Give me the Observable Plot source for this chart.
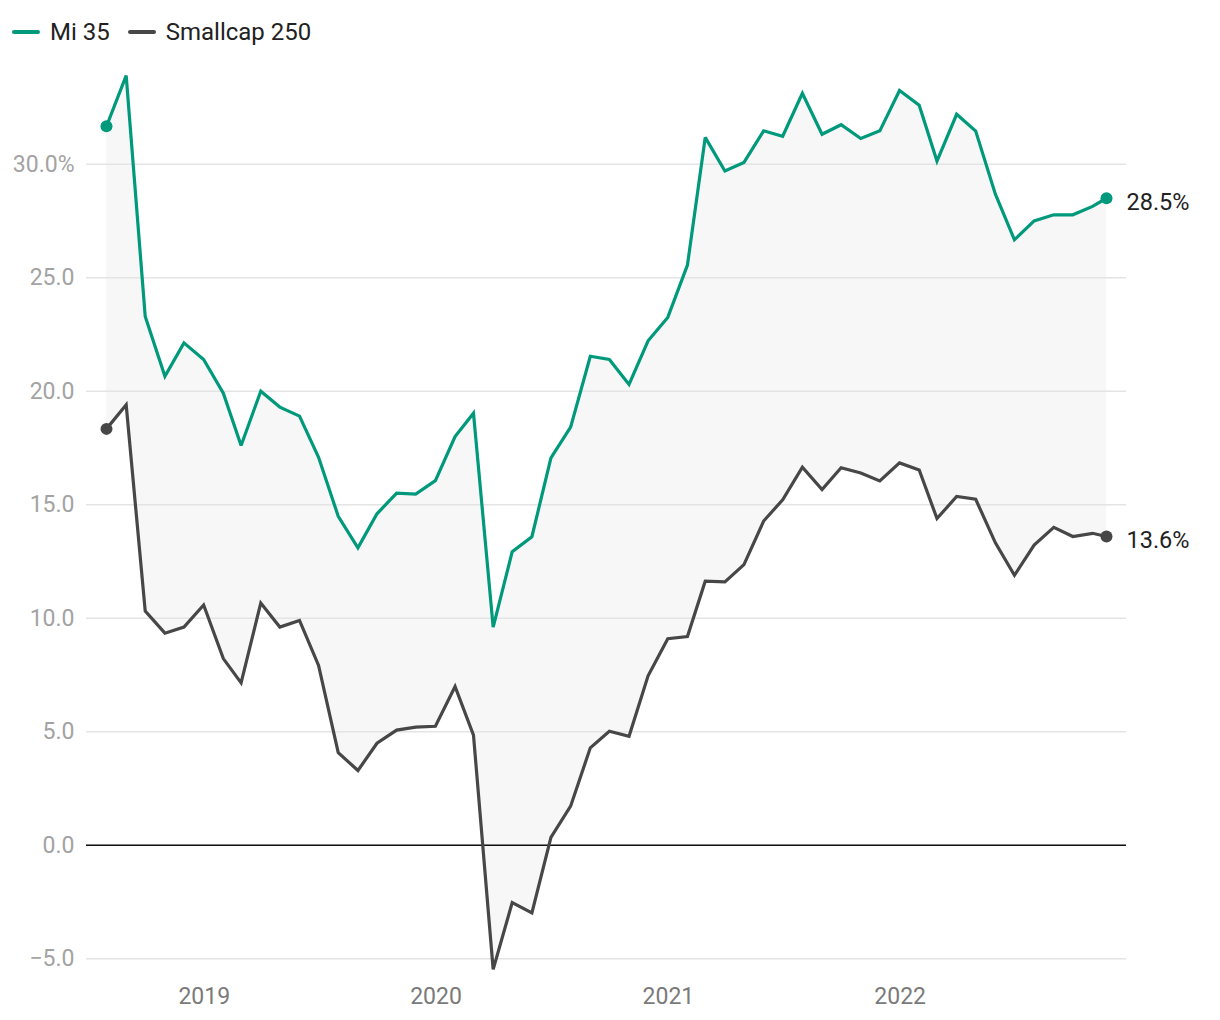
<!DOCTYPE html>
<html>
<head>
<meta charset="utf-8">
<script src="https://cdn.jsdelivr.net/npm/d3@7"></script>
<script src="https://cdn.jsdelivr.net/npm/@observablehq/plot@0.6"></script>
<style>
  body { margin: 0; background: #fff; font-family: Roboto, "Noto Sans", sans-serif; }
  #legend { height: 60px; display: flex; align-items: center; padding-left: 12px; box-sizing: border-box; padding-top: 4px; }
  .item { display: flex; align-items: center; margin-right: 18px; font-size: 24px; color: #222; }
  .sw { width: 28px; height: 3.5px; border-radius: 2px; margin-right: 10px; }
  #chart svg { display: block; }
</style>
</head>
<body>
<div id="legend"></div>
<div id="chart"></div>
<script>
const seriesNames = ["Mi 35", "Smallcap 250"];
const seriesColors = ["#00997b", "#474747"];

const dates = [
  "2018-07-31","2018-08-31","2018-09-30","2018-10-31","2018-11-30","2018-12-31",
  "2019-01-31","2019-02-28","2019-03-31","2019-04-30","2019-05-31","2019-06-30",
  "2019-07-31","2019-08-31","2019-09-30","2019-10-31","2019-11-30","2019-12-31",
  "2020-01-31","2020-02-29","2020-03-31","2020-04-30","2020-05-31","2020-06-30",
  "2020-07-31","2020-08-31","2020-09-30","2020-10-31","2020-11-30","2020-12-31",
  "2021-01-31","2021-02-28","2021-03-31","2021-04-30","2021-05-31","2021-06-30",
  "2021-07-31","2021-08-31","2021-09-30","2021-10-31","2021-11-30","2021-12-31",
  "2022-01-31","2022-02-28","2022-03-31","2022-04-30","2022-05-31","2022-06-30",
  "2022-07-31","2022-08-31","2022-09-30","2022-10-31","2022-11-22"
];

const mi35 = [
  31.67, 33.9, 23.29, 20.66, 22.13, 21.40,
  19.91, 17.61, 20.0, 19.30, 18.90, 17.09,
  14.49, 13.10, 14.60, 15.51, 15.47, 16.06,
  18.0, 19.03, 9.61, 12.93, 13.59, 17.06,
  18.42, 21.54, 21.40, 20.30, 22.22, 23.25,
  25.56, 31.18, 29.70, 30.08, 31.47, 31.23,
  33.12, 31.32, 31.74, 31.13, 31.47, 33.25,
  32.60, 30.14, 32.2, 31.46, 28.68, 26.67,
  27.5, 27.77, 27.77, 28.14, 28.5
];

const smallcap250 = [
  18.34, 19.40, 10.31, 9.34, 9.61, 10.58,
  8.22, 7.15, 10.67, 9.61, 9.90, 7.92,
  4.08, 3.29, 4.49, 5.07, 5.20, 5.24,
  6.99, 4.85, -5.47, -2.53, -2.98, 0.34,
  1.72, 4.29, 5.02, 4.80, 7.46, 9.10,
  9.19, 11.63, 11.60, 12.36, 14.28, 15.22,
  16.65, 15.67, 16.63, 16.40, 16.05, 16.84,
  16.53, 14.39, 15.36, 15.24, 13.32, 11.89,
  13.22, 14.0, 13.6, 13.74, 13.6
];

const yTicks = [-5, 0, 5, 10, 15, 20, 25, 30];
const xTickYears = ["2019", "2020", "2021", "2022"];

// legend
const legend = document.getElementById("legend");
seriesNames.forEach((n, i) => {
  const it = document.createElement("div");
  it.className = "item";
  const sw = document.createElement("span");
  sw.className = "sw";
  sw.style.background = seriesColors[i];
  it.appendChild(sw);
  const t = document.createElement("span");
  t.textContent = n;
  it.appendChild(t);
  legend.appendChild(it);
});

const parse = d3.utcParse("%Y-%m-%d");
const rows = dates.map((d, i) => ({date: parse(d), a: mi35[i], b: smallcap250[i]}));
const long = [];
[mi35, smallcap250].forEach((vals, s) => {
  vals.forEach((v, i) => long.push({date: parse(dates[i]), value: v, name: seriesNames[s]}));
});
const ends = long.filter(d => +d.date === +rows[0].date || +d.date === +rows[rows.length - 1].date);
const lasts = long.filter(d => +d.date === +rows[rows.length - 1].date);
const xTicks = xTickYears.map(y => d3.utcParse("%Y")(y));

const fmtY = v => (v === 30 ? "30.0%" : (v < 0 ? "\u2212" + Math.abs(v).toFixed(1) : v.toFixed(1)));

const chart = Plot.plot({
  width: 1220,
  height: 960,
  marginLeft: 86,
  marginRight: 94,
  marginTop: 0,
  marginBottom: 40,
  style: {fontFamily: "Roboto, 'Noto Sans', sans-serif", background: "#fff"},
  x: {type: "utc", domain: [rows[0].date, rows[rows.length - 1].date], range: [106, 1106]},
  y: {domain: [-5, 30], range: [898.2, 103.7]},
  color: {domain: seriesNames, range: seriesColors},
  marks: [
    Plot.areaY(rows, {x: "date", y1: "b", y2: "a", fill: "#f7f7f7"}),
    Plot.gridY(yTicks, {stroke: "#e4e4e4", strokeOpacity: 1, strokeWidth: 1.6}),
    Plot.ruleY([0], {stroke: "#111", strokeWidth: 1.5}),
    Plot.axisY(yTicks, {tickSize: 0, tickPadding: 12, tickFormat: fmtY, color: "#a3a3a3", fontSize: 23, label: null}),
    Plot.axisX(xTicks, {tickSize: 0, tickPadding: 7, tickFormat: d3.utcFormat("%Y"), color: "#7a7a7a", fontSize: 23, label: null}),
    Plot.line(long, {x: "date", y: "value", stroke: "name", strokeWidth: 3.2, strokeLinejoin: "miter", strokeMiterlimit: 3}),
    Plot.dot(ends, {x: "date", y: "value", fill: "name", r: 6}),
    Plot.text(lasts, {x: "date", y: "value", text: d => d.value.toFixed(1) + "%", dx: 20, dy: 4, textAnchor: "start", fontSize: 23.5, fill: "#222"})
  ]
});
document.getElementById("chart").appendChild(chart);
</script>
</body>
</html>
